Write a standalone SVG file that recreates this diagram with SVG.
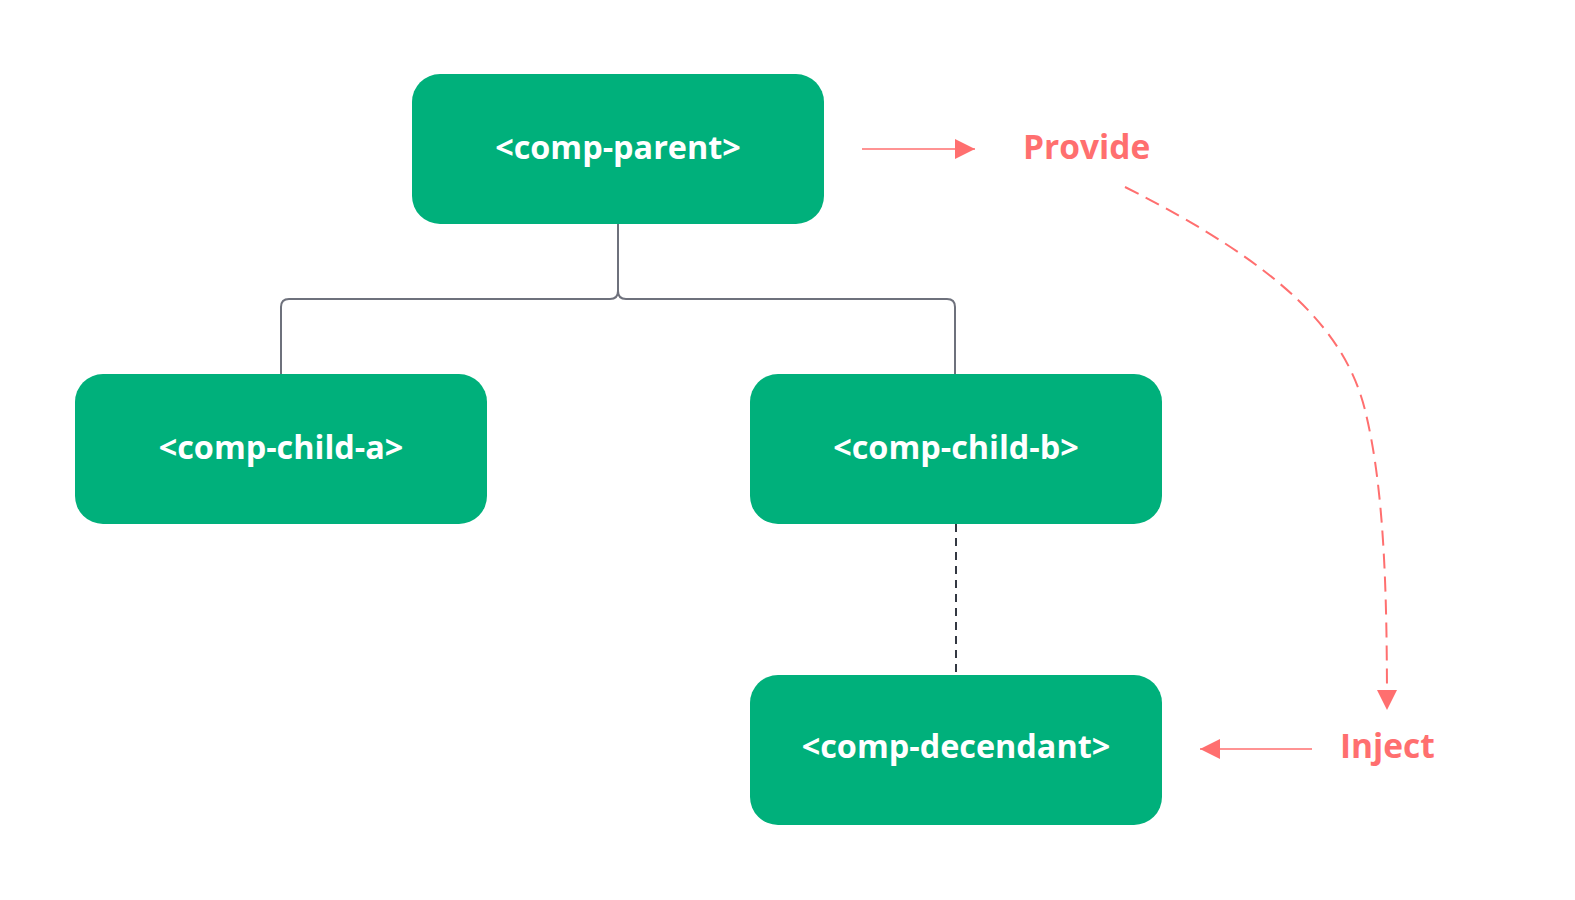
<svg xmlns="http://www.w3.org/2000/svg" width="1575" height="900" viewBox="0 0 1575 900">
<style>
.node{fill:#00b07b}
.lbl{font-family:"Open Sans","Noto Sans",sans-serif;font-weight:700;font-size:32.4px;fill:#ffffff;text-anchor:middle}
.red{font-family:"Open Sans","Noto Sans",sans-serif;font-weight:700;font-size:33.5px;fill:#ff6f6f}
.tree{fill:none;stroke:#6e717c;stroke-width:2}
.dash{fill:none;stroke:#333842;stroke-width:2;stroke-dasharray:8 6}
.redline{fill:none;stroke:#ff6f6f;stroke-width:1.6}
.reddash{fill:none;stroke:#ff6f6f;stroke-width:2;stroke-dasharray:15 8}
</style>
<defs>
<marker id="ah" viewBox="0 0 10 10" refX="10" refY="5" markerWidth="30" markerHeight="20" markerUnits="userSpaceOnUse" orient="auto">
<path d="M0,0 L10,5 L0,10 Z" fill="#ff6f6f"/>
</marker>
</defs>
<rect width="1575" height="900" fill="#ffffff"/>
<g id="connectors">
<path class="tree" d="M618,224 V291 Q618,299 610,299 H289 Q281,299 281,307 V374"/>
<path class="tree" d="M618,224 V291 Q618,299 626,299 H947 Q955,299 955,307 V374"/>
<path class="dash" d="M956,524 V675"/>
<path class="redline" d="M862,149 H975" marker-end="url(#ah)"/>
<path class="reddash" d="M1125,187 C1280,265 1345,330 1365,410 C1385,490 1387,600 1387,710" marker-end="url(#ah)"/>
<path class="redline" d="M1312,749 H1200" marker-end="url(#ah)"/>
</g>
<g id="comp-parent">
<rect class="node" x="412" y="74" width="412" height="150" rx="28"/>
<text class="lbl" x="618" y="159">&lt;comp-parent&gt;</text>
</g>
<g id="comp-child-a">
<rect class="node" x="75" y="374" width="412" height="150" rx="28"/>
<text class="lbl" x="281" y="459">&lt;comp-child-a&gt;</text>
</g>
<g id="comp-child-b">
<rect class="node" x="750" y="374" width="412" height="150" rx="28"/>
<text class="lbl" x="956" y="459">&lt;comp-child-b&gt;</text>
</g>
<g id="comp-decendant">
<rect class="node" x="750" y="675" width="412" height="150" rx="28"/>
<text class="lbl" x="956" y="758">&lt;comp-decendant&gt;</text>
</g>
<g id="provide">
<text class="red" x="1023" y="159">Provide</text>
</g>
<g id="inject">
<text class="red" x="1340" y="758">Inject</text>
</g>
</svg>
